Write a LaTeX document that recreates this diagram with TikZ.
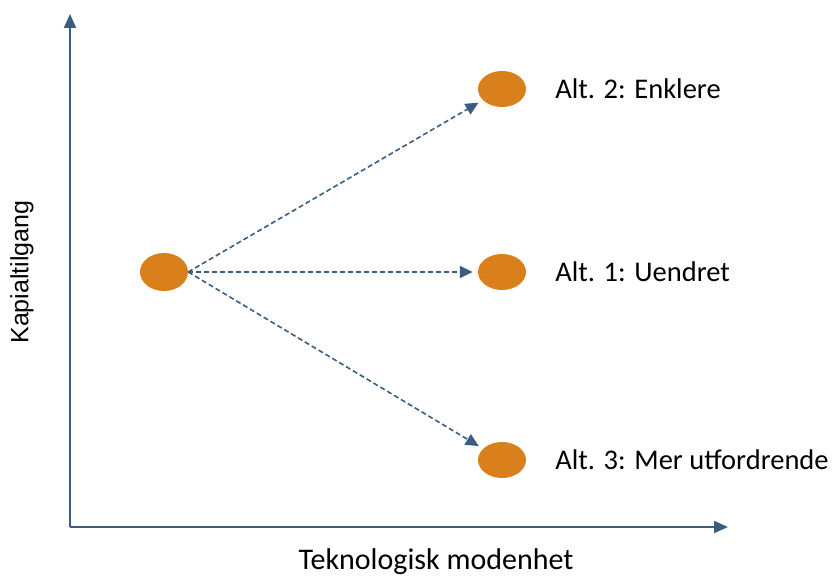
\documentclass[tikz,border=0pt]{standalone}
\usepackage{fontspec}
\setmainfont{Carlito}
\newfontfamily\arialfont{Liberation Sans}
\definecolor{axisblue}{RGB}{58,93,130}
\definecolor{dotorange}{RGB}{217,128,28}
\usetikzlibrary{
  shapes.geometric,
  arrows.meta,
  positioning
}

\begin{document}
\begin{tikzpicture}[
  x=1pt, y=1pt,
  dot/.style={ellipse, fill=dotorange, minimum width=48pt, minimum height=36pt, inner sep=0pt},
  alt/.style={font=\fontsize{28.5}{34}\selectfont, inner sep=0pt, anchor=west},
  axis/.style={-{Triangle[length=14pt, width=12pt]}, line width=2pt, axisblue},
  arr/.style={-{Triangle[length=13pt, width=12pt]}, line width=1.6pt, axisblue, dash pattern=on 5pt off 3pt, shorten >=5pt}
]
  \useasboundingbox (0,0) rectangle (832,576);

  % axes
  \coordinate (orig) at (70,49);
  \coordinate (ytop) at (70,562);
  \coordinate (xend) at (728,49);
  \draw[axis] (orig) -- (ytop);
  \draw[axis] (orig) -- (xend);
  \node[font=\fontsize{30}{36}\selectfont] (xlab) at (436,14) {Teknologisk modenhet};
  \node[font=\arialfont\fontsize{25}{30}\selectfont, rotate=90] (ylab) at (22,304) {Kapialtilgang};

  % start and alternatives
  \node[dot, minimum height=38pt] (start) at (164,304) {};
  \node[dot] (alt2) at (502,487) {};
  \node[dot] (alt1) at (502,304) {};
  \node[dot] (alt3) at (502,116) {};

  \node[alt, right=29pt of alt2] (lab2) {Alt. 2: Enklere};
  \node[alt, right=29pt of alt1] (lab1) {Alt. 1: Uendret};
  \node[alt, right=29pt of alt3] (lab3) {Alt. 3: Mer utfordrende};

  \draw[arr] (start.east) -- (alt2);
  \draw[arr] (start.east) -- (alt1);
  \draw[arr] (start.east) -- (alt3);
\end{tikzpicture}
\end{document}
